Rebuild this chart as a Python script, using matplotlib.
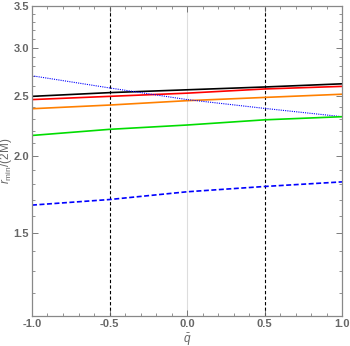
import numpy as np
import matplotlib
matplotlib.use("Agg")
import matplotlib.pyplot as plt
from matplotlib.ticker import FixedLocator, NullFormatter

# values (log y axis)
q = [-1.0, -0.5, 0.0, 0.5, 1.0]
r_black = [2.50, 2.535, 2.562, 2.589, 2.62]
r_red = [2.47, 2.50, 2.53, 2.57, 2.595]
r_orange = [2.387, 2.42, 2.46, 2.49, 2.52]
r_blue_dot = [2.70, 2.58, 2.47, 2.39, 2.317]
r_green = [2.16, 2.21, 2.246, 2.29, 2.317]
r_blue_dash = [1.665, 1.70, 1.75, 1.785, 1.816]

q_marks = [-0.5, 0.5]
yticks = [1.5, 2.0, 2.5, 3.0, 3.5]
xticks = [-1.0, -0.5, 0.0, 0.5, 1.0]

gray = '#666666'
plt.rcParams['font.family'] = ['Liberation Sans', 'DejaVu Sans']
plt.rcParams['mathtext.fontset'] = 'custom'
plt.rcParams['mathtext.rm'] = 'Liberation Sans'
plt.rcParams['mathtext.it'] = 'Liberation Sans:italic'

fig = plt.figure(figsize=(3.5, 3.46), dpi=100)
ax = fig.add_axes([0.0914, 0.0867, 0.886, 0.895])

ax.axvline(0.0, color='#dddddd', lw=0.8, zorder=0)
for xm in q_marks:
    ax.axvline(xm, color='black', lw=0.8, ls=(0, (3, 2)), zorder=1)

ax.plot(q, r_black, color='black', lw=1.2)
ax.plot(q, r_red, color='#ff0000', lw=1.2)
ax.plot(q, r_orange, color='#ff8000', lw=1.2)
ax.plot(q, r_blue_dot, color='#0000ff', lw=0.8, ls=(0, (1, 1)))
ax.plot(q, r_green, color='#00dd00', lw=1.2)
ax.plot(q, r_blue_dash, color='#0000ff', lw=1.2, ls=(0, (3, 1.5)))

ax.set_yscale('log')
ax.set_xlim(-1, 1)
ax.set_ylim(1.1, 3.5)
ax.yaxis.set_major_locator(FixedLocator(yticks))
ax.yaxis.set_major_formatter(matplotlib.ticker.FixedFormatter(['%.1f' % v for v in yticks]))
ax.yaxis.set_minor_locator(FixedLocator([v for v in np.arange(1.1, 3.5, 0.1) if min(abs(v - t) for t in yticks) > 0.01]))
ax.yaxis.set_minor_formatter(NullFormatter())
ax.set_xticks(xticks)
ax.set_xticklabels(['%.1f' % v for v in xticks])
ax.set_xticks(np.arange(-1.0, 1.01, 0.1), minor=True)

ax.tick_params(which='both', direction='in', colors=gray, labelsize=8, top=True, right=True, pad=2)
ax.tick_params(which='major', length=4, width=0.6)
ax.tick_params(which='minor', length=2, width=0.5)
for lab in ax.get_xticklabels() + ax.get_yticklabels():
    lab.set_fontweight('bold')
for s in ax.spines.values():
    s.set_color('#888888')
    s.set_linewidth(0.9)

ax.set_xlabel(r'$\bar{q}$', color=gray, fontsize=8.5)
ax.set_ylabel(r'$r_{\mathrm{min}}\mathrm{/(2M)}$', color=gray, fontsize=8.5)
ax.xaxis.set_label_coords(0.5, -0.052)
ax.yaxis.set_label_coords(-0.058, 0.5)

fig.savefig('out.png', dpi=100)
